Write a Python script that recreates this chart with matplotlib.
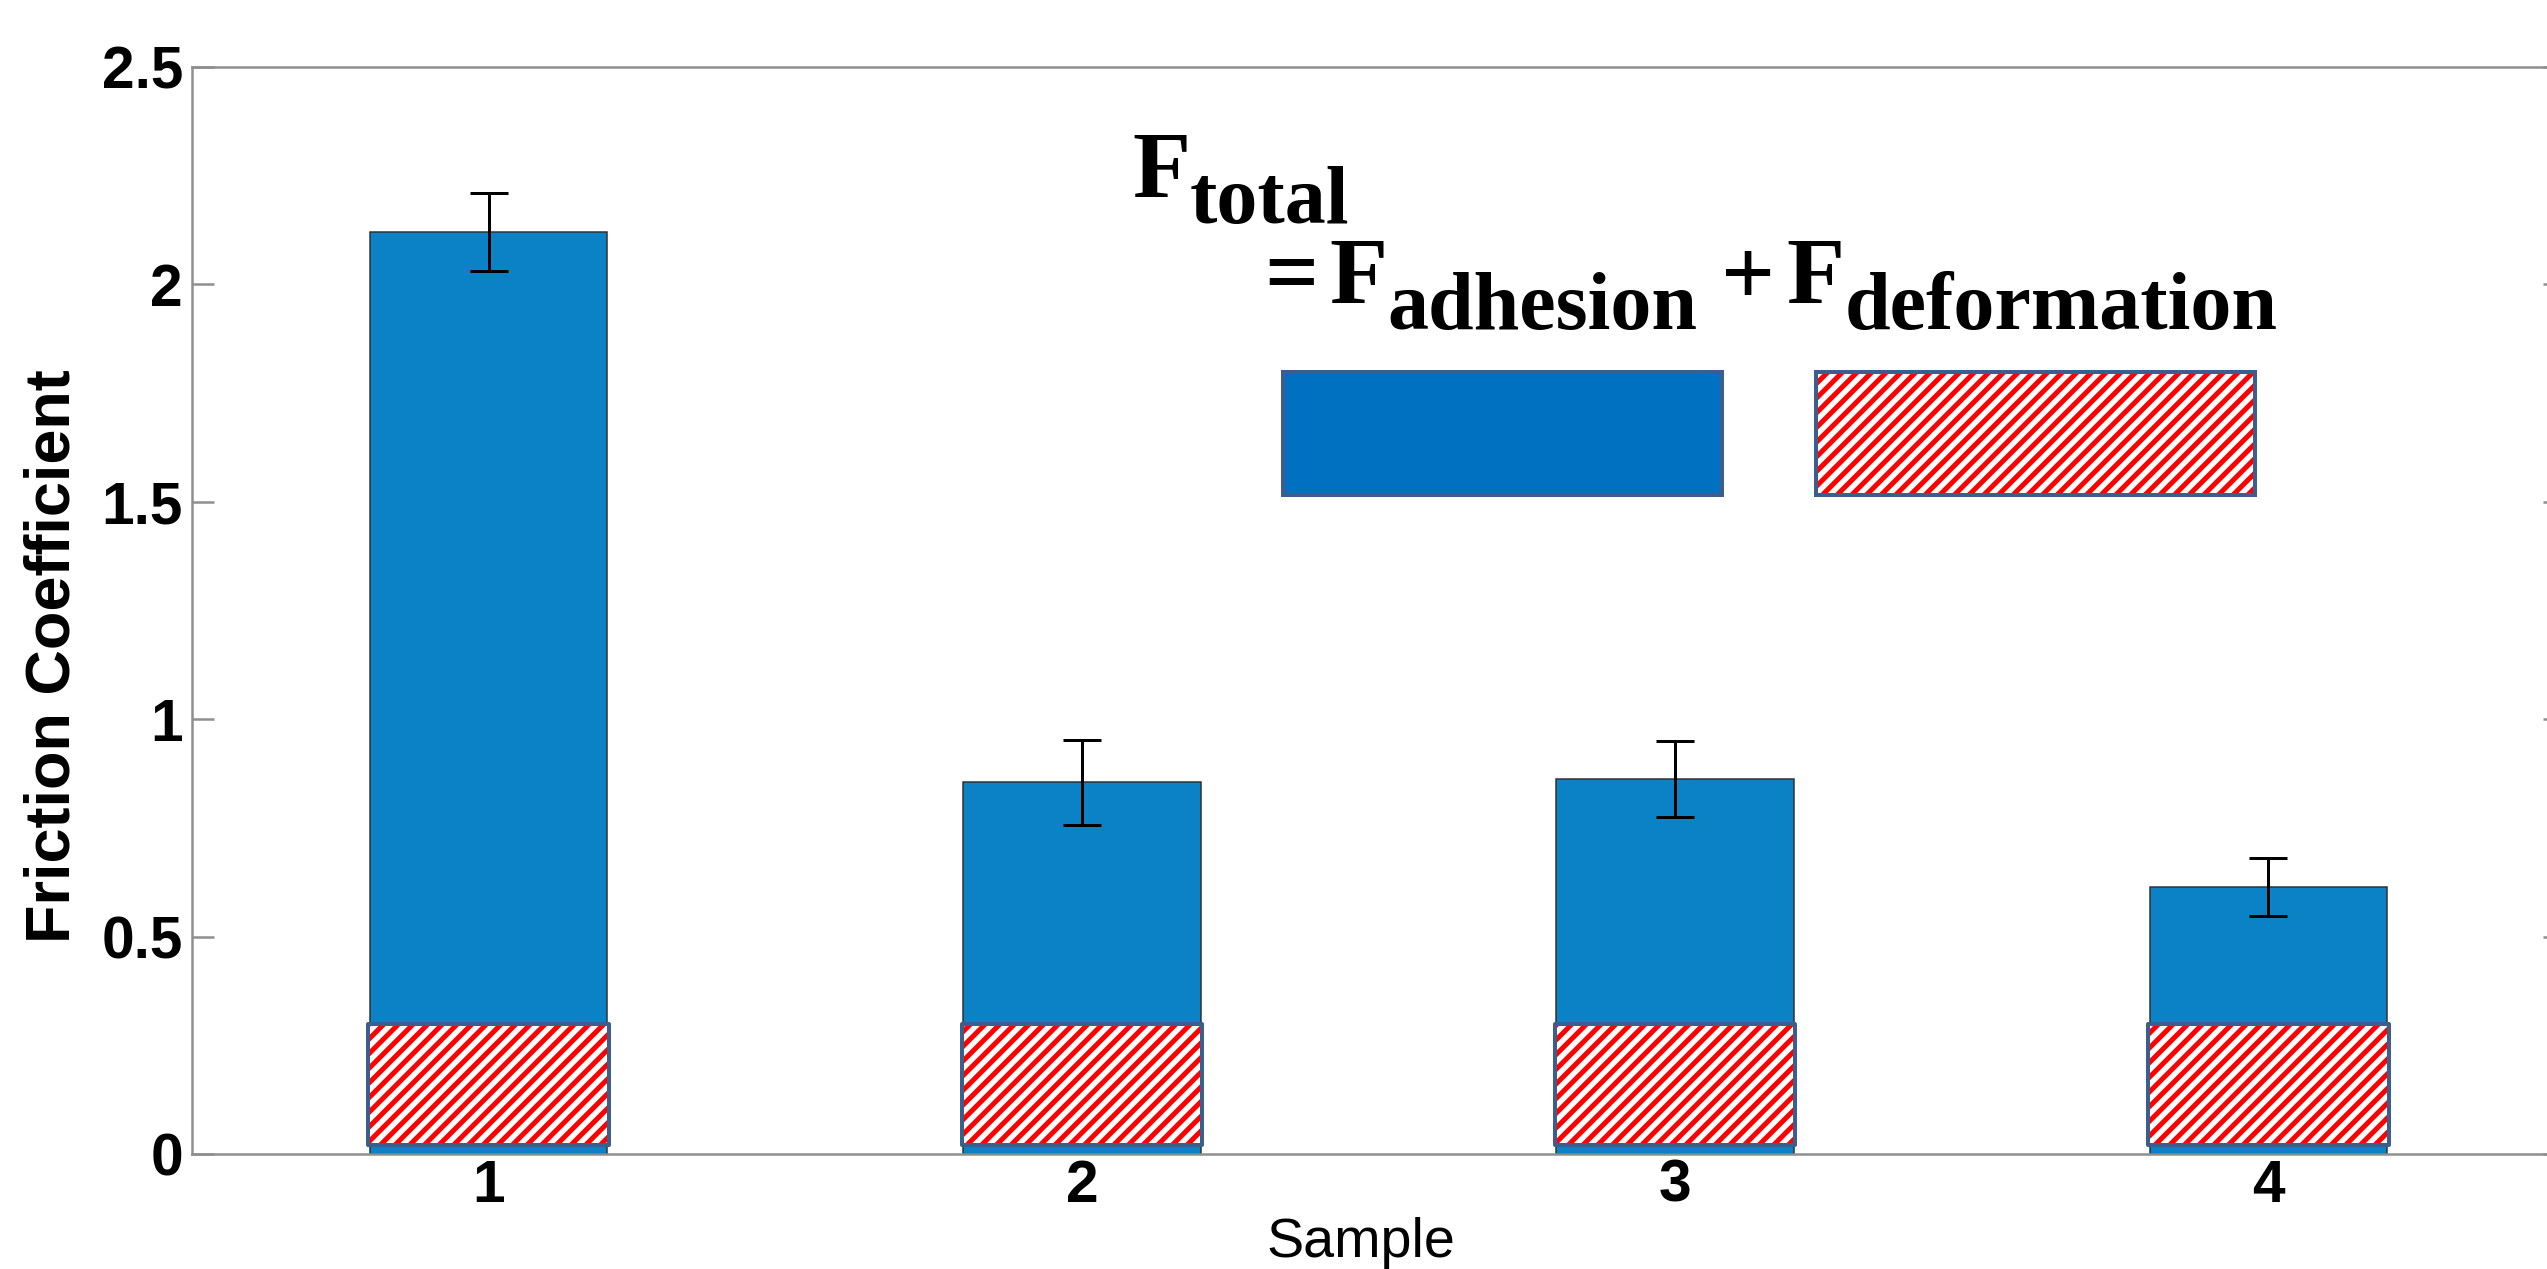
import numpy as np
import matplotlib
matplotlib.use("Agg")
import matplotlib.pyplot as plt
from matplotlib.patches import Patch
from matplotlib.legend_handler import HandlerTuple

# ---------------- data ----------------
samples = ["1", "2", "3", "4"]
friction = [2.12, 0.855, 0.862, 0.614]          # total friction coefficient
friction_err = [0.09, 0.098, 0.088, 0.066]      # error bar half-lengths
deform_low = [0.02, 0.02, 0.02, 0.02]           # deformation component box (bottom)
deform_high = [0.30, 0.30, 0.30, 0.30]          # deformation component box (top)
y_ticks = [0, 0.5, 1, 1.5, 2, 2.5]
y_tick_labels = ["0", "0.5", "1", "1.5", "2", "2.5"]

# ---------------- style ----------------
DPI = 88
W, H = 2547, 1269


def pt(pixels):
    return pixels * 72.0 / DPI


BAR_BLUE = "#0B82C6"
LEG_BLUE = "#0070C0"
SLATE = "#3B5E8C"
GRAY = "#8F8F8F"

plt.rcParams["font.family"] = ["Liberation Sans", "DejaVu Sans"]
plt.rcParams["hatch.linewidth"] = pt(5)

fig = plt.figure(figsize=(W / DPI, H / DPI), dpi=DPI)
ax = fig.add_axes([192 / W, (H - 1154) / H, (2565 - 192) / W, (1154 - 67) / H])

x = np.arange(1, len(samples) + 1)

ax.bar(x, friction, width=0.40, color=BAR_BLUE, edgecolor="#303030",
       linewidth=pt(1.5), zorder=2)
ax.errorbar(x, friction, yerr=friction_err, fmt="none", ecolor="black",
            elinewidth=pt(3), capsize=pt(19), capthick=pt(3), zorder=5)

deform_h = [hi - lo for lo, hi in zip(deform_low, deform_high)]
ax.bar(x, deform_h, bottom=deform_low, width=0.405, facecolor="white",
       edgecolor="red", hatch="//", linewidth=0, zorder=3)
ax.bar(x, deform_h, bottom=deform_low, width=0.405, fill=False,
       edgecolor=SLATE, linewidth=pt(4), joinstyle="round", zorder=4)

ax.set_xlim(0.5, 4.5)
ax.set_ylim(0, 2.5)
ax.set_xticks(x, samples, fontweight="bold")
ax.set_yticks(y_ticks, y_tick_labels, fontweight="bold")

for s in ax.spines.values():
    s.set_color(GRAY)
    s.set_linewidth(pt(2.5))

ax.tick_params(axis="y", direction="in", length=pt(22), width=pt(2.5),
               color=GRAY, left=True, right=True, labelsize=48, pad=pt(9))
ax.tick_params(axis="x", length=0, labelsize=48, pad=pt(5))

ax.set_ylabel("Friction Coefficient", fontsize=51.5, fontweight="bold")
ax.yaxis.set_label_coords(-0.046, 0.458)
ax.set_xlabel("Sample", fontsize=45.5)
ax.xaxis.set_label_coords(0.4924, -0.058)

# ---------------- formula annotation (manual sub-scripts) ----------------
renderer = fig.canvas.get_renderer()
MAIN = pt(95)   # main glyph size (points)
SUB = pt(82)    # subscript size (points)
DROP = 25       # subscript baseline drop in pixels


def compose(x0, base, pieces):
    xpos = x0
    for txt, size, drop, gap in pieces:
        t = fig.text(xpos / W, 1 - (base + drop) / H, txt, fontsize=size,
                     family="Liberation Serif", fontweight="bold",
                     ha="left", va="baseline", color="black")
        bb = t.get_window_extent(renderer)
        xpos = bb.x1 + gap


compose(1132, 198, [("F", MAIN, 0, 0), ("total", SUB, DROP, 0)])
compose(1264, 304, [("=", MAIN, 0, 11), ("F", MAIN, 0, 0),
                    ("adhesion", SUB, DROP, 24), ("+", MAIN, 0, 11),
                    ("F", MAIN, 0, 0), ("deformation", SUB, DROP, 0)])

# ---------------- legend boxes ----------------
leg_fs = 20
em = leg_fs * DPI / 72.0
box_h = 123 / em
handles = [
    Patch(facecolor=LEG_BLUE, edgecolor=SLATE, linewidth=pt(4)),
    (Patch(facecolor="white", edgecolor="red", hatch="//", linewidth=0),
     Patch(facecolor="none", edgecolor=SLATE, linewidth=pt(4))),
]
fig.legend(handles, ["", ""], ncol=2, loc="upper left",
           bbox_to_anchor=(1283 / W, 1 - 372 / H), frameon=False,
           prop={"size": leg_fs}, handlelength=439 / em,
           handleheight=(box_h - 0.245) / 0.65,
           handletextpad=0, columnspacing=94 / em, borderpad=0,
           borderaxespad=0, handler_map={tuple: HandlerTuple(ndivide=1, pad=0)})

fig.savefig("out.png", dpi=DPI)
